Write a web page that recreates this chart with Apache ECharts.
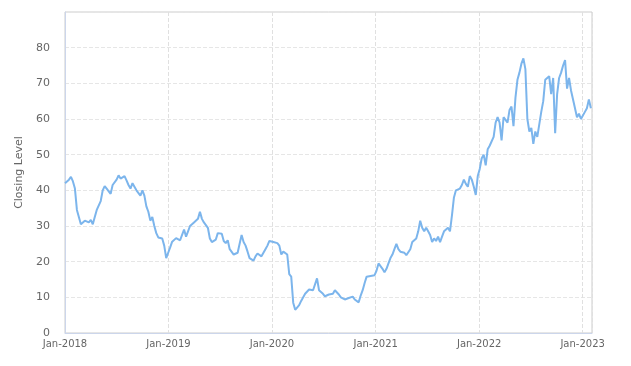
<!DOCTYPE html>
<html>
<head>
<meta charset="utf-8">
<script src="https://cdn.jsdelivr.net/npm/echarts@6/dist/echarts.min.js"></script>
<style>
html,body{margin:0;padding:0;background:#fff;}
#chart{width:631px;height:366px;}
</style>
</head>
<body>
<div id="chart"></div>
<script>
// Weekly closing levels starting from the first week of Jan 2018
const startDate = '2018-01-01';
const stepDays = 7;
const values2018 = [42,41.5,43,43.8,42.5,40.5,34.5,34,30.5,30.8,31.5,31.8,31,31.7,30.5,32.5,34.5,35,37,40,41.2,40.5,41,39,41.5,42,43,44.2,43.3,43.5,44,42.8,41.5,40.5,42,41.5,40,40.5,38.5,40,38.5,35.5,34,31.5,32.5,30,28,26.8,27.3,26.5,24.5,21];
const values2019 = [22.5,24,25.6,26,26.6,26.8,26,27.5,29,27,28.5,30,30.5,31,31.2,32,34,32,31,30.5,29.5,26.5,25.5,25.8,26.2,28,27.5,27.8,25.8,25.2,26,23.5,23,22,21.8,22.5,25,27.5,25.5,24.5,22.8,21,20.8,20.3,21.5,22.3,21.8,21.5,22.5,23.5,24.5,25.8];
const values2020 = [25.5,25.5,25.6,25.2,24.5,22,22.8,22.5,22,16.5,15.8,8.5,6.5,6.8,7.8,9,9.5,11,11.5,12.2,11.8,12,12.5,15.3,12,11.5,11,10.3,10.5,10.8,10.6,11,12,11.5,10.8,10,9.6,9.4,9.7,9.8,10,10.2,9.4,9,8.6,10.5,12,14,15.8,16.3,16,15.6,16.2];
const values2021 = [17.5,19.5,19.5,18,17,18,19.5,21,22,23.5,25,23.5,22.8,22.3,22.5,21.8,21.5,23.5,25.5,26,26.5,28.5,31.5,29.5,28.5,29.5,28.5,27.5,25.5,26.5,25.8,27,25.5,27,28.5,28,29.5,28.5,33,38,40,40.2,40.5,41.5,43,41.8,41,44,43,41,38.7,44,46,49];
const values2022 = [50,47,51.5,52.5,53,55,59,60.5,59,54,60.5,61,59,62.5,63.5,58,66,71,73,75.5,77,74,60,56.5,57.5,53,56.5,55,58.5,62,65,71,71,72,67,71.5,56,67,71.5,73,75,76.5,68.5,71.5,68,67.5,63,60.5,61.5,60,59.5,62,63,65.5,63];

const xMin = '2018-01-01';
const xMax = '2023-02-03';
const yTicks = [0,10,20,30,40,50,60,70,80];
const yMax = 90;

const allValues = [].concat(values2018, values2019, values2020, values2021, values2022);
const t0 = new Date(startDate + 'T00:00:00Z').getTime();
const seriesData = allValues.map((v, i) => [t0 + i * stepDays * 86400000, v]);

const chart = echarts.init(document.getElementById('chart'), null, {renderer: 'canvas'});
chart.setOption({
  animation: false,
  grid: {left: 65, right: 39, top: 12, bottom: 33, show: true, borderColor: '#cccccc', borderWidth: 1},
  xAxis: {
    type: 'time',
    min: new Date(xMin + 'T00:00:00Z').getTime(),
    max: new Date(xMax + 'T00:00:00Z').getTime(),
    minInterval: 365 * 86400000,
    maxInterval: 366 * 86400000,
    axisLine: {show: true, lineStyle: {color: '#ccd6eb'}},
    axisTick: {show: false},
    axisLabel: {
      color: '#666666', fontSize: 10, fontFamily: 'DejaVu Sans', margin: 6,
      hideOverlap: false,
      formatter: function (val) {
        const d = new Date(val);
        return 'Jan-' + d.getUTCFullYear();
      }
    },
    splitLine: {show: true, lineStyle: {color: '#e0e0e0', type: 'dashed', width: 1}}
  },
  yAxis: {
    type: 'value',
    min: 0, max: yMax, interval: 10,
    name: 'Closing Level',
    nameLocation: 'middle',
    nameGap: 33,
    nameTextStyle: {color: '#666666', fontSize: 11, fontFamily: 'DejaVu Sans'},
    axisLine: {show: true, lineStyle: {color: '#ccd6eb'}},
    axisTick: {show: false},
    axisLabel: {
      color: '#666666', fontSize: 11, fontFamily: 'DejaVu Sans', margin: 15,
      showMaxLabel: false,
      formatter: function (v) { return yTicks.indexOf(v) >= 0 ? String(v) : ''; }
    },
    splitLine: {show: true, lineStyle: {color: '#e6e6e6', type: 'dashed', width: 1}}
  },
  series: [{
    type: 'line',
    data: seriesData,
    showSymbol: false,
    symbol: 'none',
    lineStyle: {color: '#7cb5ec', width: 2},
    itemStyle: {color: '#7cb5ec'}
  }]
});
</script>
</body>
</html>
